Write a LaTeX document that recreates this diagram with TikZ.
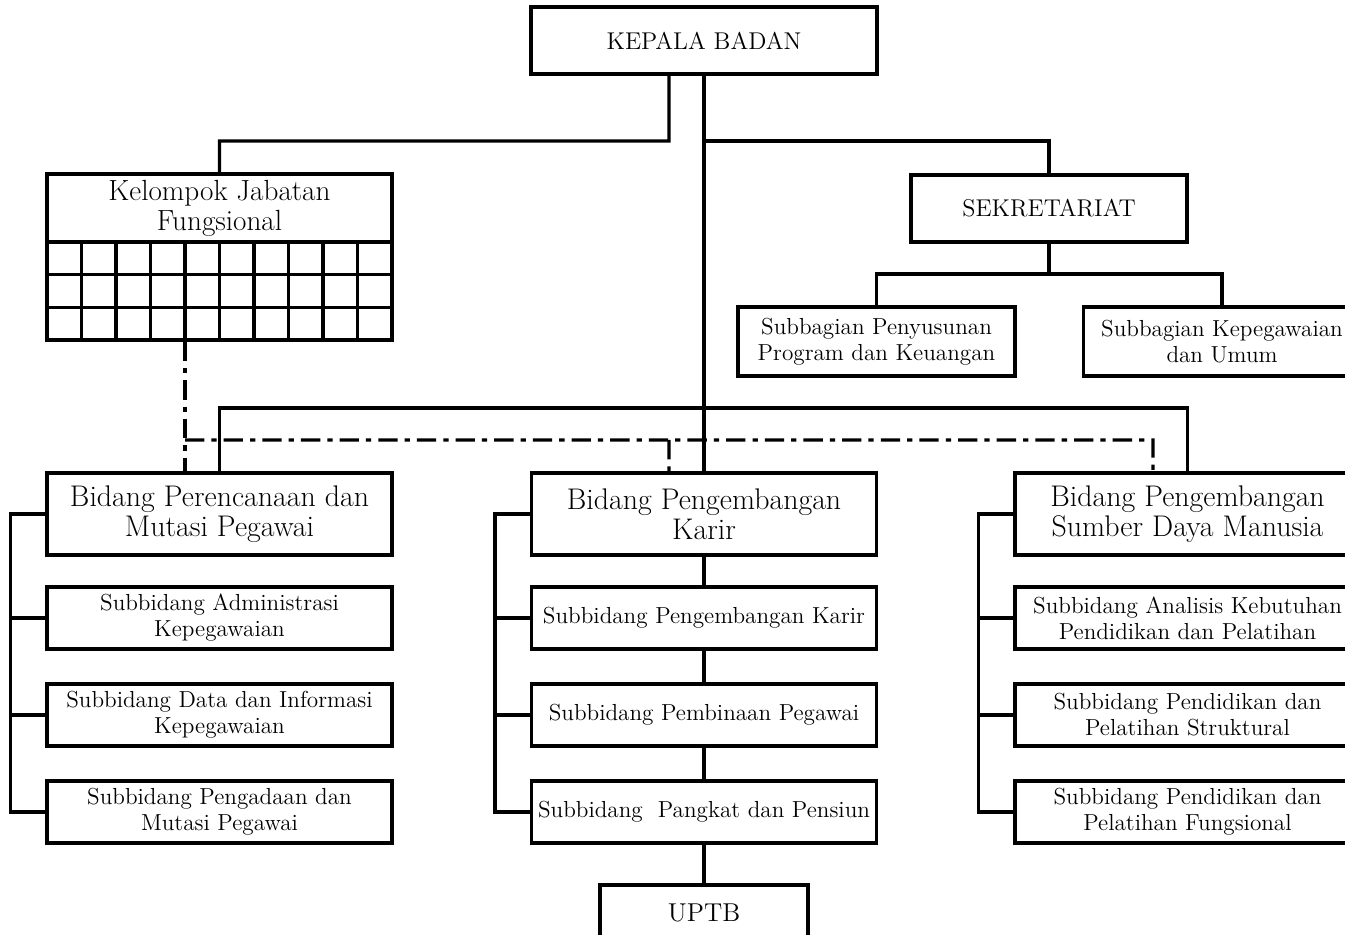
\documentclass[tikz,border=0pt]{standalone}

\begin{document}
\begin{tikzpicture}[x=0.02cm, y=-0.02cm, line width=1.8pt,
     box/.style = {draw, rectangle, inner sep=0pt, align=center},
     topbox/.style = {box, minimum height=1.34cm, font=\fontsize{13.8}{16}\selectfont},
     bidbox/.style = {box, minimum width=6.9cm, minimum height=1.64cm, font=\fontsize{17}{17.1}\selectfont},
     subbox/.style = {box, minimum width=6.9cm, minimum height=1.24cm, font=\fontsize{13.2}{14.7}\selectfont},
     bagbox/.style = {subbox, minimum width=5.54cm, minimum height=1.38cm},
     dashlink/.style = {dash pattern=on 11pt off 4pt on 3pt off 4pt},
     node distance=1.94cm
    ]
    \useasboundingbox (0,0) rectangle (1345,935);

    \node [topbox, minimum width=6.92cm] (kb) at (704,40.5) {KEPALA BADAN};
    \node [topbox, minimum width=5.52cm] (sek) at (1049,208.5) {SEKRETARIAT};
    \node [bagbox] (sbp) at (876.5,341.5) {Subbagian Penyusunan\\Program dan Keuangan};
    \node [bagbox] (sbk) at (1222,341.5) {Subbagian Kepegawaian\\dan Umum};

    \node [bidbox, minimum height=1.36cm, font=\fontsize{16.6}{17.1}\selectfont] (kjf) at (219.5,208) {Kelompok Jabatan\\Fungsional};
    \node [box, minimum width=6.9cm, minimum height=1.96cm] (kgrid) at (219.5,291) {};
    \foreach \i in {1,...,9}
      \draw (47+\i*34.5,242) -- (47+\i*34.5,340);
    \foreach \j in {274.7,307.3}
      \draw (47,\j) -- (392,\j);

    \node [bidbox] (bp) at (219.5,514) {Bidang Perencanaan dan\\Mutasi Pegawai};
    \node [subbox] (p1) at (219.5,618) {Subbidang Administrasi\\Kepegawaian};
    \node [subbox, below of=p1] (p2) {Subbidang Data dan Informasi\\Kepegawaian};
    \node [subbox, below of=p2] (p3) {Subbidang Pengadaan dan\\Mutasi Pegawai};

    \node [bidbox] (bk) at (704,514) {Bidang Pengembangan\\Karir};
    \node [subbox] (k1) at (704,618) {Subbidang Pengembangan Karir};
    \node [subbox, below of=k1] (k2) {Subbidang Pembinaan Pegawai};
    \node [subbox, below of=k2] (k3) {Subbidang\ \ Pangkat dan Pensiun};
    \node [topbox, minimum width=4.16cm, minimum height=1.12cm, font=\fontsize{14.7}{16}\selectfont] (uptb) at (704,913) {UPTB};

    \node [bidbox] (bs) at (1187.5,514) {Bidang Pengembangan\\Sumber Daya Manusia};
    \node [subbox] (m1) at (1187.5,618) {Subbidang Analisis Kebutuhan\\Pendidikan dan Pelatihan};
    \node [subbox, below of=m1] (m2) {Subbidang Pendidikan dan\\Pelatihan Struktural};
    \node [subbox, below of=m2] (m3) {Subbidang Pendidikan dan\\Pelatihan Fungsional};

    \coordinate (bus1) at (669,141);
    \coordinate (bus2) at (704,141);
    \coordinate (bus3) at (1049,274);
    \coordinate (bus4) at (704,408);
    \draw ([xshift=-0.7cm]kb.south) -- (bus1) -| (kjf.north);
    \draw (kb.south) -- (bk.north);
    \draw (bus2) -| (sek.north);
    \draw (sek.south) -- (bus3);
    \draw (sbp.north) |- (bus3) -| (sbk.north);
    \draw (bp.north) |- (bus4) -| (bs.north);

    \draw (bk.south) -- (k1.north);
    \draw (k1.south) -- (k2.north);
    \draw (k2.south) -- (k3.north);
    \draw (k3.south) -- (uptb.north);

    \foreach \b/\s in {bp/p, bk/k, bs/m} {
      \draw (\b.west) -- ++(-35,0) |- (\s3.west);
      \draw (\s1.west) -- ++(-35,0);
      \draw (\s2.west) -- ++(-35,0);
    }

    \coordinate (dl) at (185,440);
    \coordinate (dm) at (669,440);
    \coordinate (dr) at (1153,440);
    \draw [dashlink] ([xshift=-0.69cm]kgrid.south) -- ([xshift=-0.69cm]bp.north);
    \draw [dashlink] (dl) -- (dr) -- ([xshift=-0.69cm]bs.north);
    \draw [dashlink] (dm) -- ([xshift=-0.7cm]bk.north);
\end{tikzpicture}
\end{document}
